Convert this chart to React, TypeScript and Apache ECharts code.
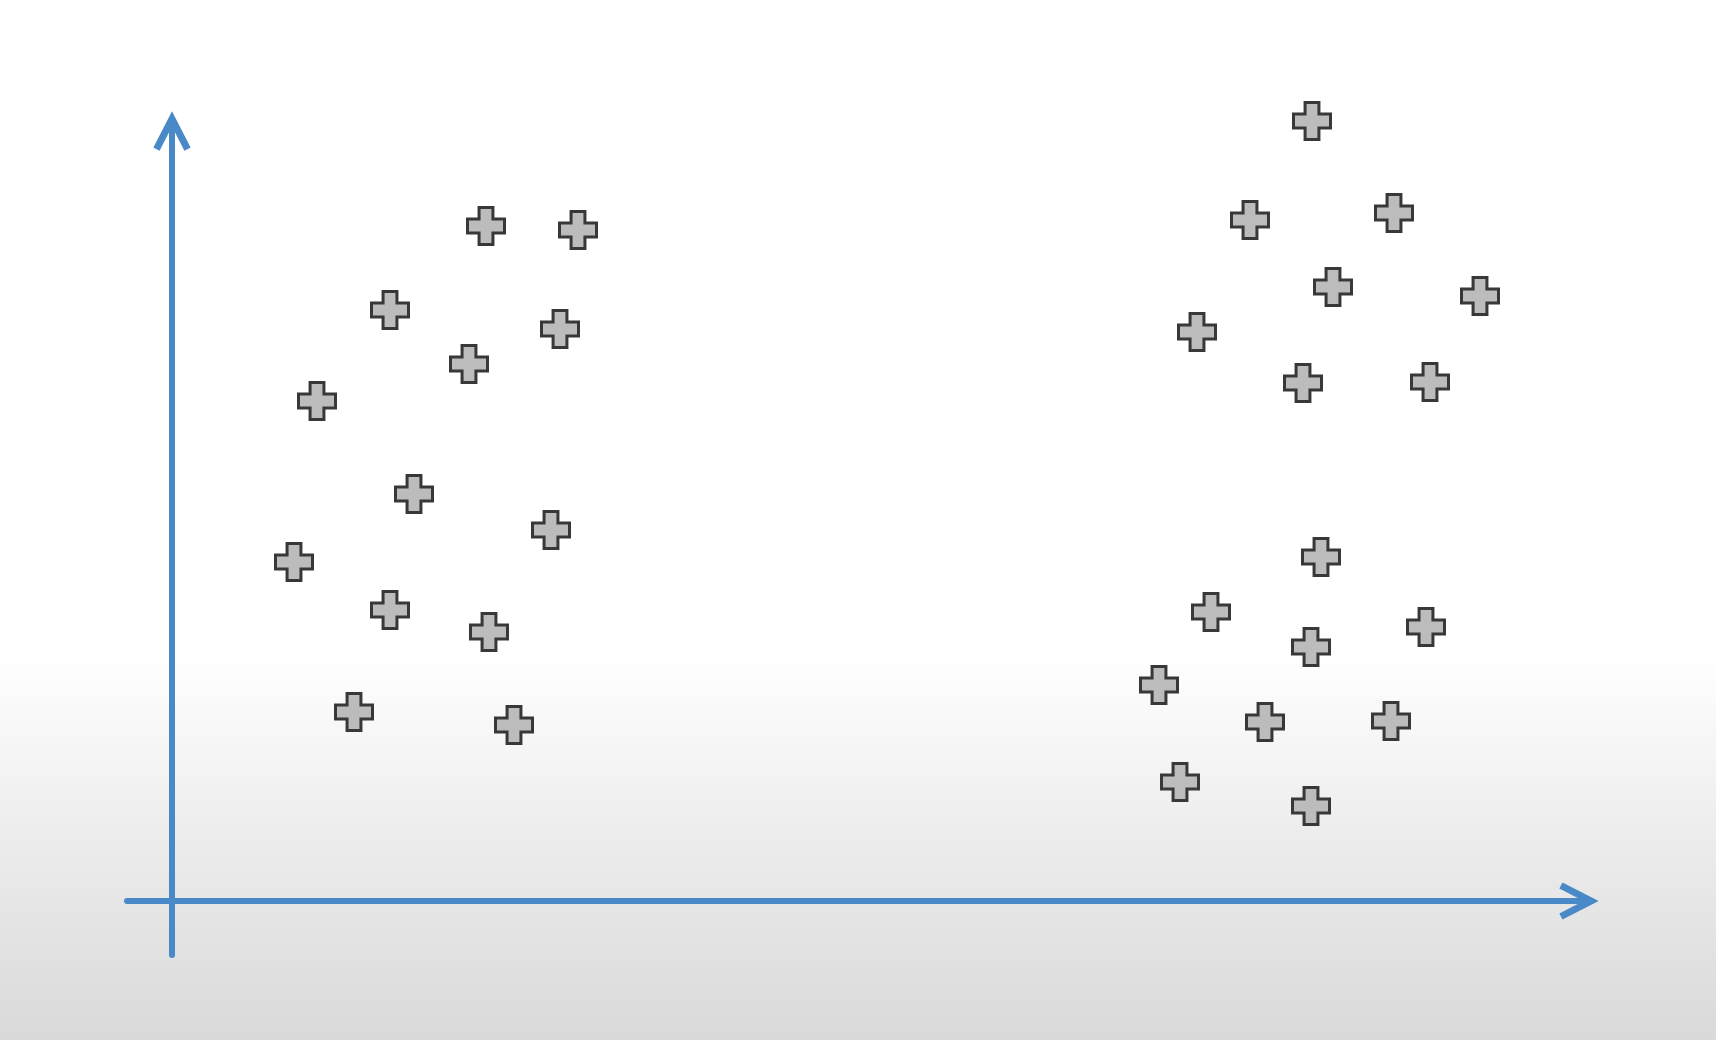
import React, { useEffect, useRef } from 'react';
import * as echarts from 'echarts';

// left cluster
const leftX = [31.4, 40.6, 21.8, 38.8, 29.7, 14.5, 24.2, 37.9, 12.2, 21.8, 31.7, 18.2, 34.2];
const leftY = [67.5, 67.1, 59.1, 57.2, 53.7, 50.0, 40.7, 37.1, 33.9, 29.1, 26.9, 18.9, 17.6];

// upper right cluster
const upperRightX = [114.0, 107.8, 122.2, 116.1, 130.8, 102.5, 113.1, 125.8];
const upperRightY = [78.0, 68.1, 68.8, 61.4, 60.5, 56.9, 51.8, 51.9];

// lower right cluster
const lowerRightX = [114.9, 103.9, 125.4, 113.9, 98.7, 109.3, 121.9, 100.8, 113.9];
const lowerRightY = [34.4, 28.9, 27.4, 25.4, 21.6, 17.9, 18.0, 11.9, 9.5];

const xRange = [-4.5, 141.9];
const yRange = [-5.4, 78.2];

const axisColor = '#4a89c7';
const plusPath =
  'path://M2.5,0 L5.5,0 L5.5,2.5 L8,2.5 L8,5.5 L5.5,5.5 L5.5,8 L2.5,8 L2.5,5.5 L0,5.5 L0,2.5 L2.5,2.5 Z';
const chevronPath = 'path://M18.6,0 L37.2,36.2 L31,39.4 L18.6,15.2 L6.2,39.4 L0,36.2 Z';

const zip = (xs: number[], ys: number[]) => xs.map((x, i) => [x, ys[i]]);

const axisBase = {
  type: 'value' as const,
  splitLine: { show: false },
  axisTick: { show: false },
  axisLabel: { show: false },
  axisLine: {
    show: true,
    onZero: true,
    symbol: ['none', chevronPath],
    symbolSize: [37.2, 39.4],
    symbolOffset: [0, -12],
    lineStyle: { color: axisColor, width: 6 },
  },
};

const markerSeries = (name: string, data: number[][]) => ({
  name,
  type: 'scatter' as const,
  symbol: plusPath,
  symbolSize: 37,
  clip: false,
  itemStyle: { color: '#bcbcbc', borderColor: '#383838', borderWidth: 3, opacity: 1 },
  data,
});

const App: React.FC = () => {
  const chartRef = useRef<HTMLDivElement>(null);

  useEffect(() => {
    if (!chartRef.current) return;
    const chart = echarts.init(chartRef.current, undefined, { renderer: 'svg' });

    chart.setOption({
      animation: false,
      backgroundColor: {
        type: 'linear',
        x: 0,
        y: 0,
        x2: 0,
        y2: 1,
        colorStops: [
          { offset: 0, color: '#ffffff' },
          { offset: 0.63, color: '#ffffff' },
          { offset: 0.78, color: '#efefef' },
          { offset: 0.9, color: '#e3e3e3' },
          { offset: 1, color: '#d9d9d9' },
        ],
      },
      grid: { left: 127, right: 125, top: 119, bottom: 85 },
      xAxis: { ...axisBase, min: xRange[0], max: xRange[1] },
      yAxis: { ...axisBase, min: yRange[0], max: yRange[1] },
      series: [
        markerSeries('left', zip(leftX, leftY)),
        markerSeries('upperRight', zip(upperRightX, upperRightY)),
        markerSeries('lowerRight', zip(lowerRightX, lowerRightY)),
      ],
    });

    const handleResize = () => chart.resize();
    window.addEventListener('resize', handleResize);
    return () => {
      window.removeEventListener('resize', handleResize);
      chart.dispose();
    };
  }, []);

  return (
    <div
      ref={chartRef}
      style={{ position: 'fixed', left: 0, top: 0, width: '100vw', height: '100vh' }}
    />
  );
};

export default App;
